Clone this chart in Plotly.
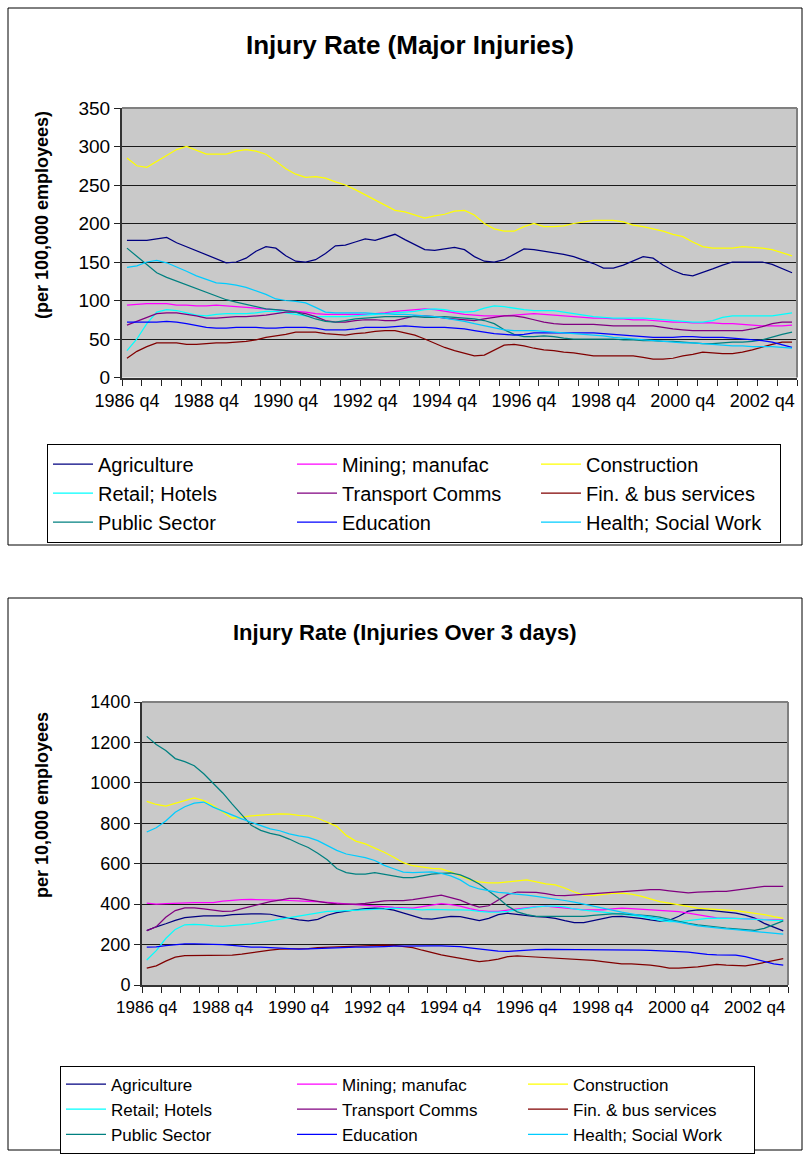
import plotly.graph_objects as go

# ---------------- data ----------------
# quarterly categories 1986 q4 .. 2003 q3
START_YEAR = 1986
QUARTERS = []
y, q = START_YEAR, 4
for _ in range(68):
    QUARTERS.append(f"{y} q{q}")
    q += 1
    if q > 4:
        q = 1
        y += 1

TICK_LABELS = ["1986 q4", "1988 q4", "1990 q4", "1992 q4", "1994 q4",
               "1996 q4", "1998 q4", "2000 q4", "2002 q4"]

SERIES = ["Agriculture", "Mining; manufac", "Construction",
          "Retail; Hotels", "Transport Comms", "Fin. & bus services",
          "Public Sector", "Education", "Health; Social Work"]

COLORS = ["#000080", "#FF00FF", "#FFFF00", "#00FFFF", "#800080",
          "#800000", "#008080", "#0000FF", "#00CCFF"]

# Major injuries, per 100,000 employees
major_agriculture = [178,178,178,180,182,175,170,165,159,155,149,150,155,164,170,168,158,151,150,153,161,171,172,176,180,178,182,186,179,172,166,165,
                     167,169,166,157,151,150,153,160,167,166,164,162,160,157,153,148,142,142,146,151,157,155,146,139,134,132,136,141,146,150,150,150,150,147,141,136]
major_mining = [94,95,96,96,96,94,94,93,93,94,93,92,91,90,89,88,87,86,85,83,82,82,82,82,82,83,84,86,87,88,89,88,
                86,84,82,81,80,80,80,81,82,83,82,81,80,79,78,77,77,76,76,75,75,74,73,72,72,71,71,71,70,70,69,68,67,67,67,68]
major_construction = [285,275,273,281,288,296,300,295,290,290,290,294,296,294,290,281,271,264,260,261,259,254,250,244,237,231,223,217,215,211,207,210,
                      212,216,217,211,200,193,190,190,196,200,196,196,197,200,202,204,204,204,202,198,196,193,190,186,183,176,170,168,168,168,170,169,168,166,162,158]
major_retail = [35,50,70,85,88,87,84,81,80,82,83,83,83,84,86,86,84,82,80,79,79,79,79,80,81,82,83,84,85,86,88,89,
                88,86,85,86,90,93,92,90,88,87,87,87,85,83,81,79,78,77,77,77,77,76,75,74,73,72,72,74,78,80,80,80,80,80,82,84]
major_transport = [68,73,79,83,84,84,82,80,77,77,78,79,79,80,81,83,85,85,83,79,74,72,72,74,75,75,74,74,77,80,80,79,
                   77,76,75,74,76,78,80,80,78,75,72,70,69,69,69,69,68,67,67,67,67,67,65,63,62,61,61,61,61,61,61,63,66,70,72,72]
major_finance = [25,34,40,45,45,45,43,43,44,45,45,46,47,49,52,54,56,59,59,59,57,56,55,57,58,60,61,61,58,55,50,44,
                 39,35,31,28,29,35,42,43,41,38,36,35,33,32,30,28,28,28,28,28,26,24,24,25,28,30,33,32,31,31,33,36,40,43,46,46]
major_public = [168,157,146,136,130,125,120,115,110,106,101,98,95,92,89,88,87,85,80,76,73,72,74,76,77,78,79,79,79,79,78,78,
                79,78,77,76,74,70,62,56,53,53,54,53,51,50,50,50,50,50,49,49,48,48,47,47,46,45,44,44,45,46,46,47,49,53,56,59]
major_education = [72,72,72,72,73,72,70,67,65,64,64,65,65,65,64,64,65,65,65,64,62,62,62,63,65,65,65,66,67,66,65,65,
                   65,64,63,61,59,57,56,55,56,58,58,58,58,58,58,58,57,56,55,54,53,52,52,52,53,53,52,52,52,51,50,49,48,46,43,39]
major_health = [143,145,150,152,149,144,138,132,127,123,122,120,117,113,108,102,100,99,97,91,85,84,84,84,84,83,83,82,82,81,80,79,
                77,75,73,70,67,64,62,61,61,61,60,59,58,57,56,55,54,52,51,50,49,48,47,46,45,45,44,43,42,41,41,40,40,40,39,38]

# Injuries over 3 days, per 10,000 employees
o3_agriculture = [269,288,303,320,333,339,342,342,342,348,351,352,352,350,340,330,322,317,325,345,358,366,372,378,380,378,370,355,340,328,326,
                  334,340,338,328,318,330,348,355,350,342,338,336,330,318,309,309,318,330,338,339,336,330,322,316,320,340,365,372,370,366,362,355,346,331,305,285,268]
o3_mining = [405,400,402,405,408,408,408,408,415,420,422,423,423,422,420,418,415,414,413,408,405,401,398,394,390,388,384,382,380,388,395,
             402,398,390,378,368,364,364,370,376,380,388,390,386,380,375,372,372,372,376,380,378,375,372,370,367,363,356,348,338,332,331,330,328,326,323,322,322]
o3_construction = [908,893,885,897,912,925,912,888,858,825,830,837,840,845,847,845,839,837,825,805,785,740,712,698,678,657,632,605,590,582,577,
                   574,560,540,520,510,505,505,510,518,520,510,500,495,480,460,445,442,448,453,455,450,440,425,412,405,397,390,380,376,372,370,368,362,355,348,338,330]
o3_retail = [124,170,230,275,298,300,298,292,290,294,298,302,310,318,326,334,342,350,358,364,366,368,368,370,372,376,380,378,374,372,374,
             372,372,372,370,364,360,360,364,372,380,386,390,390,386,376,370,364,358,355,350,345,340,330,320,314,314,318,325,330,331,331,330,327,324,322,320,320]
o3_transport = [269,288,335,368,382,382,376,370,364,366,378,390,402,412,420,428,428,422,414,406,401,400,400,404,410,416,418,418,422,430,440,
                445,432,420,400,385,392,420,448,460,460,458,452,443,442,445,448,450,455,459,462,465,468,472,472,466,460,456,460,463,463,463,468,475,482,488,488,488]
o3_finance = [83,95,118,138,145,146,146,146,146,148,153,160,168,173,177,178,178,180,185,187,187,188,190,192,195,197,196,192,185,172,160,
              149,140,132,122,116,120,128,140,144,141,138,136,134,131,128,126,122,116,110,105,104,102,98,92,84,83,86,90,96,102,98,95,95,102,112,122,130]
o3_public = [1230,1190,1160,1120,1105,1085,1045,1000,950,895,840,790,765,750,740,722,700,680,652,620,576,556,548,548,556,548,540,531,531,540,548,
             552,555,545,525,500,465,430,390,362,348,340,339,339,339,339,340,345,350,352,352,350,346,342,336,325,314,305,298,292,287,282,278,273,270,280,300,317]
o3_education = [187,189,195,200,203,203,203,202,200,196,190,187,187,184,180,178,177,179,181,180,183,186,187,187,187,190,192,193,193,193,193,
                193,192,190,184,178,172,168,166,170,174,175,176,176,175,174,174,174,174,174,174,174,173,171,168,166,165,163,157,152,149,149,148,140,128,115,105,98]
o3_health = [757,778,811,855,882,900,905,880,860,840,822,805,790,772,763,748,738,730,714,690,666,648,638,630,616,592,575,558,556,558,560,
             552,540,520,490,475,465,458,454,450,445,438,432,425,418,410,400,388,378,370,360,352,345,336,328,320,310,300,293,287,281,278,274,269,264,260,256,252]

MAJOR = [major_agriculture, major_mining, major_construction, major_retail, major_transport,
         major_finance, major_public, major_education, major_health]
OVER3 = [o3_agriculture, o3_mining, o3_construction, o3_retail, o3_transport,
         o3_finance, o3_public, o3_education, o3_health]

# ---------------- figure ----------------
W, H = 803, 1155
FONT = "Liberation Sans, Arial, sans-serif"
GRID = "#1a1a1a"
PLOTBG = "#C9C9C9"

def px(x):
    return x / W

def py(y):
    return 1 - y / H

x_idx = list(range(len(QUARTERS)))
tick_idx = [QUARTERS.index(t) for t in TICK_LABELS]

fig = go.Figure()

for vals, name, col in zip(MAJOR, SERIES, COLORS):
    fig.add_trace(go.Scatter(x=x_idx, y=vals, mode="lines", name=name,
                             line=dict(color=col, width=1.25),
                             xaxis="x", yaxis="y", legend="legend",
                             hovertext=QUARTERS))
for vals, name, col in zip(OVER3, SERIES, COLORS):
    fig.add_trace(go.Scatter(x=x_idx, y=vals, mode="lines", name=name,
                             line=dict(color=col, width=1.25),
                             xaxis="x2", yaxis="y2", legend="legend2",
                             hovertext=QUARTERS))

def xaxis_cfg(domain, anchor, fsize):
    return dict(domain=domain, anchor=anchor, range=[-0.5, len(QUARTERS) - 0.5],
                tickmode="array", tickvals=tick_idx, ticktext=TICK_LABELS,
                ticks="outside", ticklen=6, tickcolor="rgba(0,0,0,0)",
                minor=dict(tickmode="linear", tick0=-0.5, dtick=2, ticks="outside",
                           ticklen=6, tickcolor="#222", tickwidth=1, showgrid=False),
                showgrid=False, zeroline=False, showline=True, linecolor="#333",
                linewidth=2, tickfont=dict(family=FONT, size=fsize, color="black"),
                automargin=False, fixedrange=True)

def yaxis_cfg(domain, rng, dtick, anchor, fsize):
    return dict(domain=domain, range=rng, dtick=dtick, tick0=0, anchor=anchor,
                ticks="outside", ticklen=6, tickcolor="#222",
                showgrid=True, gridcolor=GRID, gridwidth=1, zeroline=False,
                showline=True, linecolor="#333", linewidth=2,
                tickfont=dict(family=FONT, size=fsize, color="black"),
                automargin=False, fixedrange=True)

fig.update_layout(
    width=W, height=H, margin=dict(l=0, r=0, t=0, b=0, autoexpand=False),
    paper_bgcolor="white", plot_bgcolor=PLOTBG,
    xaxis=xaxis_cfg([px(122), px(797)], "y", 18),
    yaxis=yaxis_cfg([py(377.5), py(108)], [0, 350], 50, "x", 19),
    xaxis2=xaxis_cfg([px(142), px(788)], "y2", 17),
    yaxis2=yaxis_cfg([py(985), py(702)], [0, 1400], 200, "x2", 18),
    legend=dict(orientation="h", x=px(47), y=py(443.5), xanchor="left", yanchor="top",
                bgcolor="white", bordercolor="black", borderwidth=1,
                font=dict(family=FONT, size=20, color="black"),
                entrywidth=189, entrywidthmode="pixels", itemwidth=40,
                traceorder="normal"),
    legend2=dict(orientation="h", x=px(60), y=py(1065.5), xanchor="left", yanchor="top",
                 bgcolor="white", bordercolor="black", borderwidth=1,
                 font=dict(family=FONT, size=17, color="black"),
                 entrywidth=176, entrywidthmode="pixels", itemwidth=40,
                 traceorder="normal"),
    showlegend=True,
)

shapes = []
# chart frames
for (x0, y0, x1, y1) in [(8, 8, 802, 545), (8, 598, 802, 1150)]:
    shapes.append(dict(type="rect", xref="paper", yref="paper",
                       x0=px(x0), x1=px(x1), y0=py(y1), y1=py(y0),
                       line=dict(color="black", width=1), fillcolor="rgba(0,0,0,0)",
                       layer="below"))
# plot-area border (top and right, grey)
for xr, yr in [("x", "y"), ("x2", "y2")]:
    shapes.append(dict(type="line", xref=f"{xr} domain", yref=f"{yr} domain",
                       x0=0, x1=1, y0=1, y1=1, line=dict(color="#808080", width=2),
                       layer="above"))
    shapes.append(dict(type="line", xref=f"{xr} domain", yref=f"{yr} domain",
                       x0=1, x1=1, y0=0, y1=1, line=dict(color="#808080", width=2),
                       layer="above"))
fig.update_layout(shapes=shapes)

annotations = [
    dict(text="<b>Injury Rate (Major Injuries)</b>", x=px(410), y=py(45),
         xref="paper", yref="paper", showarrow=False,
         xanchor="center", yanchor="middle",
         font=dict(family=FONT, size=26, color="black")),
    dict(text="<b>(per 100,000 employees)</b>", x=px(42), y=py(215),
         xref="paper", yref="paper", showarrow=False, textangle=-90,
         xanchor="center", yanchor="middle",
         font=dict(family=FONT, size=18, color="black")),
    dict(text="<b>Injury Rate (Injuries Over 3 days)</b>", x=px(405), y=py(632),
         xref="paper", yref="paper", showarrow=False,
         xanchor="center", yanchor="middle",
         font=dict(family=FONT, size=22, color="black")),
    dict(text="<b>per 10,000 employees</b>", x=px(42), y=py(805),
         xref="paper", yref="paper", showarrow=False, textangle=-90,
         xanchor="center", yanchor="middle",
         font=dict(family=FONT, size=18, color="black")),
]
fig.update_layout(annotations=annotations)

fig.write_html("out.html")
